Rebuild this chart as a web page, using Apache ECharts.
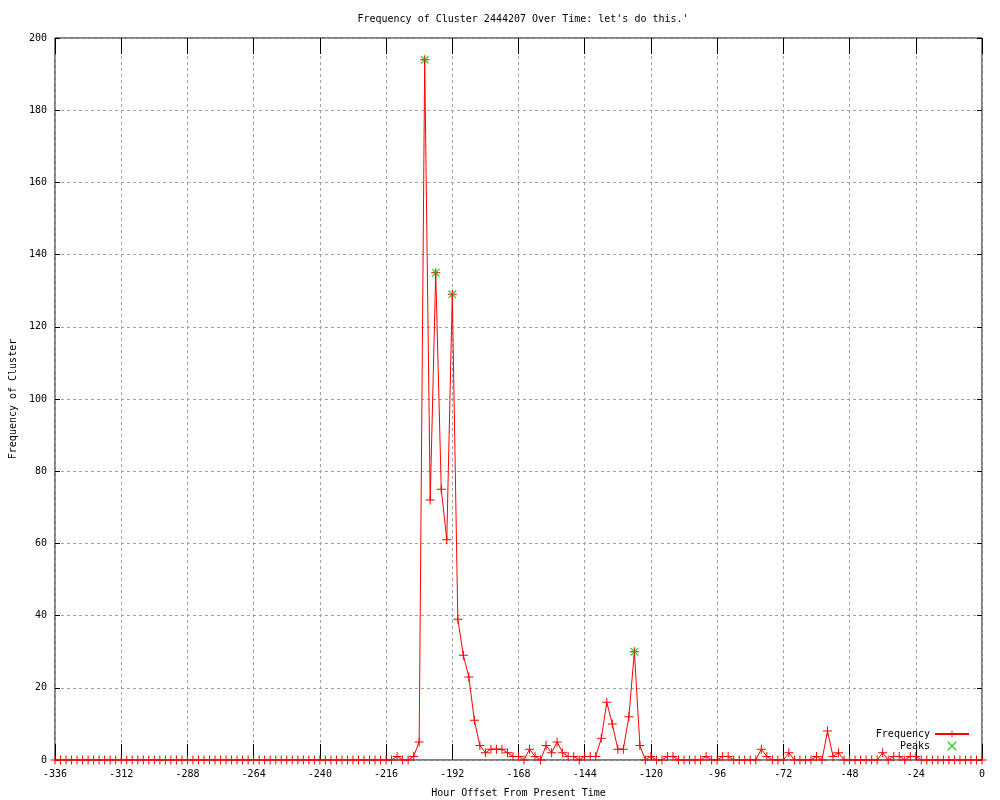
<!DOCTYPE html>
<html>
<head>
<meta charset="utf-8">
<script src="https://cdn.jsdelivr.net/npm/echarts@6/dist/echarts.min.js"></script>
<style>
html,body{margin:0;padding:0;background:#fff;}
#chart{width:1000px;height:800px;}
</style>
</head>
<body>
<div id="chart"></div>
<script>
var titleText = "Frequency of Cluster 2444207 Over Time: let's do this.'";
var xAxisName = "Hour Offset From Present Time";
var yAxisName = "Frequency of Cluster";

var hours = [
  -336,-334,-332,-330,-328,-326,-324,-322,-320,-318,-316,-314,
  -312,-310,-308,-306,-304,-302,-300,-298,-296,-294,-292,-290,
  -288,-286,-284,-282,-280,-278,-276,-274,-272,-270,-268,-266,
  -264,-262,-260,-258,-256,-254,-252,-250,-248,-246,-244,-242,
  -240,-238,-236,-234,-232,-230,-228,-226,-224,-222,-220,-218,
  -216,-214,-212,-210,-208,-206,-204,-202,-200,-198,-196,-194,
  -192,-190,-188,-186,-184,-182,-180,-178,-176,-174,-172,-170,
  -168,-166,-164,-162,-160,-158,-156,-154,-152,-150,-148,-146,
  -144,-142,-140,-138,-136,-134,-132,-130,-128,-126,-124,-122,
  -120,-118,-116,-114,-112,-110,-108,-106,-104,-102,-100,-98,
  -96,-94,-92,-90,-88,-86,-84,-82,-80,-78,-76,-74,
  -72,-70,-68,-66,-64,-62,-60,-58,-56,-54,-52,-50,
  -48,-46,-44,-42,-40,-38,-36,-34,-32,-30,-28,-26,
  -24,-22,-20,-18,-16,-14,-12,-10,-8,-6,-4,-2,
  0
];

var frequency = [
  0,0,0,0,0,0,0,0,0,0,0,0,
  0,0,0,0,0,0,0,0,0,0,0,0,
  0,0,0,0,0,0,0,0,0,0,0,0,
  0,0,0,0,0,0,0,0,0,0,0,0,
  0,0,0,0,0,0,0,0,0,0,0,0,
  0,0,1,0,0,1,5,194,72,135,75,61,
  129,39,29,23,11,4,2,3,3,3,2,1,
  1,0,3,1,0,4,2,5,2,1,1,0,
  1,1,1,6,16,10,3,3,12,30,4,0,
  1,0,0,1,1,0,0,0,0,0,1,0,
  0,1,1,0,0,0,0,0,3,1,0,0,
  0,2,0,0,0,0,1,0,8,1,2,0,
  0,0,0,0,0,0,2,0,1,1,0,1,
  1,0,0,0,0,0,0,0,0,0,0,0,
  0
];

var peakHours = [-202, -198, -192, -126];
var peakValues = [194, 135, 129, 30];

var xTicks = {min: -336, max: 0, interval: 24};
var yTicks = {min: 0, max: 200, interval: 20};

var FONT = 'DejaVu Sans Mono';
var PLUS = 'path://M4,0H5V4H9V5H5V9H4V5H0V4H4Z';
var CROSS = 'path://M0,0L1,0L4.5,3.5L8,0L9,0L9,1L5.5,4.5L9,8L9,9L8,9L4.5,5.5L1,9L0,9L0,8L3.5,4.5L0,1Z';

var lineData = hours.map(function (h, i) { return [h, frequency[i]]; });
var peakData = peakHours.map(function (h, i) { return [h, peakValues[i]]; });

var chart = echarts.init(document.getElementById('chart'), null, {renderer: 'canvas'});

var gridLine = {show: true, lineStyle: {color: '#a0a0a0', type: [3, 3], width: 1}};
var noLine = {show: false, onZero: false};

chart.setOption({
  animation: false,
  backgroundColor: '#ffffff',
  title: {
    text: titleText,
    left: 518, top: 9, textAlign: 'center',
    textStyle: {fontFamily: FONT, fontSize: 10, fontWeight: 'normal', color: '#000'}
  },
  grid: {left: 55, right: 18, top: 38, bottom: 40, containLabel: false, outerBoundsMode: 'none',
         show: true, borderColor: '#000', borderWidth: 1, backgroundColor: 'transparent'},
  legend: {
    orient: 'vertical',
    right: 30, top: 729, padding: 0,
    align: 'right',
    itemWidth: 34, itemHeight: 9, itemGap: 2,
    textStyle: {fontFamily: FONT, fontSize: 10, color: '#000'},
    data: ['Frequency', 'Peaks']
  },
  xAxis: [{
    type: 'value', min: xTicks.min, max: xTicks.max, interval: xTicks.interval,
    position: 'bottom',
    name: xAxisName, nameLocation: 'middle', nameGap: 28,
    nameTextStyle: {fontFamily: FONT, fontSize: 10, color: '#000'},
    axisLine: noLine,
    axisTick: {show: true, inside: true, length: 16, lineStyle: {color: '#000'}},
    axisLabel: {fontFamily: FONT, fontSize: 10, color: '#000', margin: 9},
    splitLine: gridLine
  }, {
    type: 'value', min: xTicks.min, max: xTicks.max, interval: xTicks.interval,
    position: 'top',
    axisLine: noLine,
    axisTick: {show: true, inside: true, length: 16, lineStyle: {color: '#000'}},
    axisLabel: {show: false},
    splitLine: {show: false}
  }],
  yAxis: [{
    type: 'value', min: yTicks.min, max: yTicks.max, interval: yTicks.interval,
    position: 'left',
    name: yAxisName, nameLocation: 'middle', nameGap: 37, nameRotate: 90,
    nameTextStyle: {fontFamily: FONT, fontSize: 10, color: '#000'},
    axisLine: noLine,
    axisTick: {show: true, inside: true, length: 5, lineStyle: {color: '#000'}},
    axisLabel: {fontFamily: FONT, fontSize: 10, color: '#000', margin: 8},
    splitLine: gridLine
  }, {
    type: 'value', min: yTicks.min, max: yTicks.max, interval: yTicks.interval,
    position: 'right',
    axisLine: noLine,
    axisTick: {show: true, inside: true, length: 5, lineStyle: {color: '#000'}},
    axisLabel: {show: false},
    splitLine: {show: false}
  }],
  series: [{
    name: 'Frequency',
    type: 'line',
    xAxisIndex: 0, yAxisIndex: 0,
    data: lineData,
    showAllSymbol: true,
    symbol: PLUS, symbolSize: 9,
    itemStyle: {color: '#ff0000'},
    lineStyle: {color: '#ff0000', width: 1},
    emphasis: {disabled: true},
    z: 3
  }, {
    name: 'Peaks',
    type: 'scatter',
    xAxisIndex: 0, yAxisIndex: 0,
    data: peakData,
    symbol: CROSS, symbolSize: 8,
    itemStyle: {color: '#00c000'},
    emphasis: {disabled: true},
    z: 4
  }]
});
</script>
</body>
</html>
